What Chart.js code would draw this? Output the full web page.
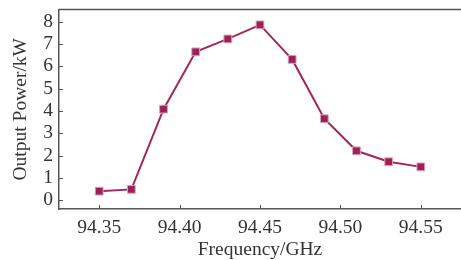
<!DOCTYPE html>
<html>
<head>
<meta charset="utf-8">
<script src="https://cdn.jsdelivr.net/npm/chart.js@4/dist/chart.umd.min.js"></script>
<style>
  html, body { margin: 0; padding: 0; background: #fff; }
  #wrap { width: 461px; height: 260px; }
</style>
</head>
<body>
<div id="wrap"><canvas id="grafico" width="461" height="260"></canvas></div>
<script>
// Datos
const frecuencias = [94.35, 94.37, 94.39, 94.41, 94.43, 94.45, 94.47, 94.49, 94.51, 94.53, 94.55];
const potencias = [0.40, 0.48, 4.08, 6.65, 7.23, 7.86, 6.31, 3.65, 2.21, 1.72, 1.49];
const ticksX = [94.35, 94.40, 94.45, 94.50, 94.55];
const ticksY = [0, 1, 2, 3, 4, 5, 6, 7, 8];

const fuente = "'Liberation Serif', 'DejaVu Serif', serif";
const colorTexto = "#333";
const colorEje = "#555";

// Marcas de eje hacia dentro + borde superior
const ticksInternos = {
  id: "ticksInternos",
  afterDraw(chart) {
    const { ctx, chartArea, scales } = chart;
    ctx.save();
    ctx.strokeStyle = colorEje;
    ctx.lineWidth = 1;
    ctx.beginPath();
    ticksX.forEach((v) => {
      const x = Math.round(scales.x.getPixelForValue(v)) + 0.5;
      ctx.moveTo(x, chartArea.bottom);
      ctx.lineTo(x, chartArea.bottom - 4);
    });
    ticksY.forEach((v) => {
      const y = Math.round(scales.y.getPixelForValue(v)) + 0.5;
      ctx.moveTo(chartArea.left, y);
      ctx.lineTo(chartArea.left + 4, y);
    });
    ctx.stroke();
    ctx.beginPath();
    ctx.lineWidth = 1.5;
    ctx.moveTo(chartArea.left, chartArea.top);
    ctx.lineTo(chartArea.right, chartArea.top);
    ctx.stroke();
    ctx.restore();
  },
};

new Chart(document.getElementById("grafico"), {
  type: "line",
  data: {
    datasets: [
      {
        data: frecuencias.map((f, i) => ({ x: f, y: potencias[i] })),
        borderColor: "#a3275c",
        borderWidth: 2,
        backgroundColor: "#9c2256",
        pointStyle: "rect",
        pointRadius: 5.5,
        pointBorderColor: "#d8a3ba",
        pointBorderWidth: 1,
        tension: 0,
        clip: false,
      },
    ],
  },
  options: {
    responsive: false,
    animation: false,
    layout: { autoPadding: false, padding: { top: 9.5, right: 0, bottom: 0, left: 0 } },
    plugins: { legend: { display: false }, tooltip: { enabled: false } },
    scales: {
      x: {
        type: "linear",
        min: 94.325,
        max: 94.575,
        afterBuildTicks: (axis) => {
          axis.ticks = ticksX.map((v) => ({ value: v }));
        },
        afterFit: (axis) => {
          axis.height = 51;
          axis.paddingLeft = 0;
          axis.paddingRight = 0;
        },
        grid: { display: true, drawOnChartArea: false, drawTicks: false },
        border: { display: true, color: colorEje, width: 1.5 },
        ticks: {
          autoSkip: false,
          maxRotation: 0,
          padding: 7,
          color: colorTexto,
          font: { family: fuente, size: 19.5 },
          callback: (v) => v.toFixed(2),
        },
        title: {
          display: true,
          text: "Frequency/GHz",
          color: colorTexto,
          font: { family: fuente, size: 19.5, lineHeight: 1 },
          padding: 0,
        },
      },
      y: {
        min: -0.4,
        max: 8.55,
        afterBuildTicks: (axis) => {
          axis.ticks = ticksY.map((v) => ({ value: v }));
        },
        afterFit: (axis) => {
          axis.width = 59;
          axis.paddingTop = 0;
          axis.paddingBottom = 0;
        },
        grid: { display: true, drawOnChartArea: false, drawTicks: false },
        border: { display: true, color: colorEje, width: 1.5 },
        ticks: {
          autoSkip: false,
          padding: 6,
          color: colorTexto,
          font: { family: fuente, size: 19.5 },
        },
        title: {
          display: true,
          text: "Output Power/kW",
          color: colorTexto,
          font: { family: fuente, size: 19.5, lineHeight: 1 },
          padding: { top: 11, bottom: 0 },
        },
      },
    },
  },
  plugins: [ticksInternos],
});
</script>
</body>
</html>
